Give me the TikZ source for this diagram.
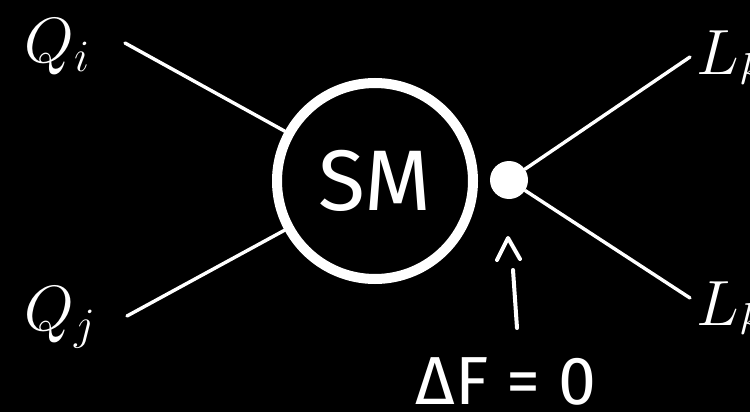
\RequirePackage{fix-cm}
\documentclass[tikz,border=0pt]{standalone}
\usepackage{fontspec}
\usetikzlibrary{positioning}
\newfontfamily\smfont{Fira Sans}
\newfontfamily\dffont{Fira Sans}
\definecolor{bg}{HTML}{000000}
\definecolor{ink}{HTML}{FFFFFF}
\tikzset{
  leg/.style   ={draw=ink,line width=1.7pt,line cap=round},
  ring/.style  ={circle,draw=ink,line width=5pt,minimum size=98pt,inner sep=0pt,
                 text=ink,font=\smfont\fontsize{43}{48}\selectfont},
  vertex/.style={circle,fill=ink,minimum size=19pt,inner sep=0pt},
  lbl/.style   ={text=ink,font=\fontsize{32}{36}\selectfont,inner sep=0pt},
  hand/.style  ={draw=ink,line width=2pt,line cap=round,line join=round}
}
\begin{document}
\begin{tikzpicture}[x=0.5pt,y=-0.5pt]
  \path[use as bounding box,fill=bg] (0,0) rectangle (750,412);
  % blob and vertex
  \node[ring] (sm) at (375,181) {SM};
  \node[vertex] (vx) at (509,180) {};
  % external legs
  \node[lbl,anchor=base west] (qi) at (24,62) {$Q_i$};
  \node[lbl,anchor=base west] (qj) at (24,330) {$Q_j$};
  \node[lbl,anchor=base west] (lk1) at (696,75) {$L_k$};
  \node[lbl,anchor=base west] (lk2) at (696,325) {$L_k$};
  \coordinate (qiend) at (125,43);
  \coordinate (qjend) at (127,316);
  \coordinate (lk1end) at (690,57);
  \coordinate (lk2end) at (690,298);
  \draw[leg] (qiend) -- (sm);
  \draw[leg] (qjend) -- (sm);
  \draw[leg] (vx) -- (lk1end);
  \draw[leg] (vx) -- (lk2end);
  % flavour label
  \node[text=ink,font=\dffont\fontsize{34}{40}\selectfont,anchor=base,inner sep=0pt]
    (df) at (506,404) {ΔF = 0};
  \coordinate (ftail) at (517,328);
  \coordinate (fshaft) at (513,270);
  \coordinate (ftip) at (508,238);
  \draw[hand] (ftail) -- (fshaft);
  \draw[hand] (ftip) ++(-11,22) -- (ftip) -- ++(12,21);
\end{tikzpicture}
\end{document}
